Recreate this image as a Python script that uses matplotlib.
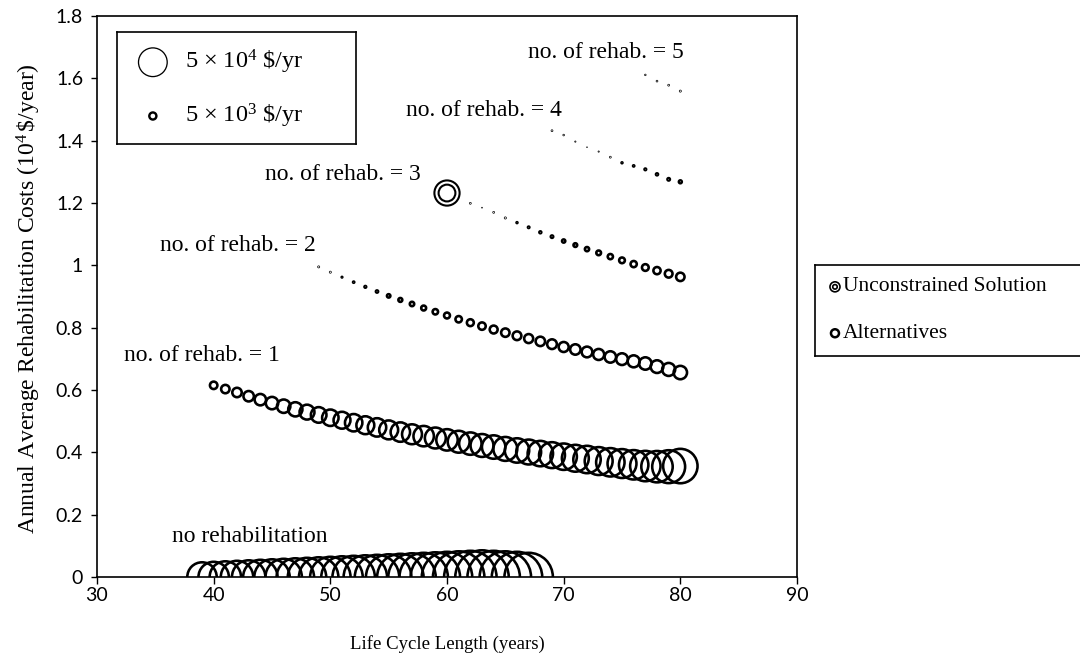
import numpy as np
import matplotlib.pyplot as plt
from matplotlib.ticker import FuncFormatter

DPI = 100

# life cycle length (years) for each rehabilitation count
years_r0 = list(range(39, 68))
years_r1 = list(range(40, 81))
years_r2 = list(range(49, 81))
years_r3 = list(range(61, 81))
years_r4 = list(range(69, 81))
years_r5 = list(range(77, 81))

# annual average rehabilitation costs (10^4 $/year)
cost_r0 = [0.0, 0.0, 0.0, 0.0, 0.0, 0.0, 0.0, 0.0, 0.0, 0.0,
           0.0, 0.0, 0.0, 0.0, 0.0, 0.0, 0.0, 0.0, 0.0, 0.0,
           0.0, 0.0, 0.0, 0.0, 0.0, 0.0, 0.0, 0.0, 0.0]
cost_r1 = [0.615, 0.603, 0.592, 0.580, 0.569, 0.558, 0.548, 0.538, 0.529, 0.520,
           0.511, 0.503, 0.495, 0.487, 0.480, 0.472, 0.465, 0.458, 0.452, 0.446,
           0.440, 0.434, 0.428, 0.422, 0.417, 0.411, 0.406, 0.401, 0.396, 0.391,
           0.386, 0.381, 0.377, 0.372, 0.368, 0.364, 0.360, 0.356, 0.354, 0.354,
           0.356]
cost_r2 = [0.995, 0.978, 0.962, 0.946, 0.931, 0.916, 0.902, 0.889, 0.876, 0.863,
           0.851, 0.839, 0.827, 0.816, 0.805, 0.794, 0.784, 0.774, 0.765, 0.756,
           0.747, 0.738, 0.730, 0.722, 0.714, 0.706, 0.699, 0.692, 0.685, 0.675,
           0.666, 0.656]
cost_r3 = [1.215, 1.199, 1.185, 1.170, 1.152, 1.137, 1.122, 1.106, 1.092, 1.078,
           1.065, 1.052, 1.040, 1.028, 1.016, 1.004, 0.993, 0.983, 0.973, 0.963]
cost_r4 = [1.432, 1.418, 1.397, 1.379, 1.365, 1.347, 1.329, 1.319, 1.308, 1.292,
           1.276, 1.268]
cost_r5 = [1.611, 1.591, 1.578, 1.559]

# bubble values (10^3 $/yr)
size_r0 = [56.9, 60.5, 64.2, 68.1, 72.0, 76.1, 80.2, 84.5, 88.9, 93.4,
           98.0, 102.7, 107.6, 112.5, 117.6, 122.7, 128.0, 133.4, 138.9, 144.5,
           150.2, 156.1, 162.0, 168.1, 174.2, 168.1, 162.0, 156.1, 144.5]
size_r1 = [5.6, 6.7, 8.0, 9.4, 10.9, 12.5, 14.2, 15.7, 17.0, 18.4,
           20.1, 21.1, 22.2, 23.3, 24.5, 25.7, 26.9, 28.1, 29.4, 30.7,
           32.0, 33.3, 34.7, 36.1, 37.6, 39.0, 40.5, 42.0, 43.6, 45.1,
           46.7, 48.3, 50.0, 51.7, 53.4, 55.1, 56.9, 60.5, 64.2, 70.0,
           76.1]
size_r2 = [0.44, 0.44, 0.57, 0.80, 1.03, 1.28, 2.00, 2.35, 2.72, 3.13,
           3.56, 4.01, 4.50, 5.01, 5.56, 6.13, 6.72, 7.09, 7.48, 8.00,
           8.40, 8.82, 9.39, 9.83, 10.3, 10.9, 11.4, 11.8, 12.5, 13.0,
           13.5, 14.2]
size_r3 = [0.06, 0.38, 0.14, 0.38, 0.47, 0.68, 0.89, 1.13, 1.39, 1.87,
           2.20, 2.57, 2.96, 3.38, 3.83, 4.30, 4.80, 5.34, 5.89, 6.72]
size_r4 = [0.38, 0.32, 0.22, 0.125, 0.22, 0.38, 0.68, 0.80, 0.98, 1.18,
           1.39, 1.68]
size_r5 = [0.29, 0.35, 0.38, 0.44]

# unconstrained optimum (no. of rehab. = 3)
unc_year = 60
unc_cost = 1.232
unc_size = 32.0

legend_sizes = [50.0, 5.0]
legend_labels = [r'5 × 10$^4$ \$/yr', r'5 × 10$^3$ \$/yr']

SERIF = 'Liberation Serif'
plt.rcParams['font.family'] = ['Lato', 'DejaVu Sans']
plt.rcParams['mathtext.fontset'] = 'custom'
plt.rcParams['mathtext.rm'] = SERIF
plt.rcParams['mathtext.it'] = SERIF + ':italic'
plt.rcParams['mathtext.bf'] = SERIF + ':bold'
PT = 72.0 / DPI


def bubble_px(v):
    # outer bubble diameter in px, area proportional to value (5x10^4 $/yr -> 30 px)
    return 30.0 * np.sqrt(np.asarray(v, dtype=float) / 50.0)


def bubbles(ax, x, y, v, **kw):
    D = bubble_px(v)
    # thin outline for the tiniest bubbles, heavy outline otherwise
    lw = np.where(D < 3.05, 0.7, np.minimum(2.6, D * 0.42))
    path = D - lw
    ax.scatter(x, y, s=(path * PT) ** 2, facecolors='none', edgecolors='black',
               linewidths=lw * PT, **kw)


fig = plt.figure(figsize=(10.8, 6.61), dpi=DPI)
ax = fig.add_axes([97 / 1080, 84 / 661, 700 / 1080, 561 / 661])

for x, y, v in [(years_r0, cost_r0, size_r0), (years_r1, cost_r1, size_r1),
                (years_r2, cost_r2, size_r2), (years_r3, cost_r3, size_r3),
                (years_r4, cost_r4, size_r4), (years_r5, cost_r5, size_r5)]:
    bubbles(ax, x, y, v)

# double ring for the unconstrained solution
d_unc = bubble_px(unc_size)
for f in (1.05, 0.7):
    ax.scatter([unc_year], [unc_cost], s=(d_unc * f * PT) ** 2,
               facecolors='none', edgecolors='black', linewidths=1.5)

ax.set_xlim(30, 90)
ax.set_ylim(0, 1.8)
ax.set_xticks(np.arange(30, 91, 10))
ax.set_yticks(np.arange(0, 1.81, 0.2))
ax.yaxis.set_major_formatter(FuncFormatter(lambda v, p: f'{v:.1f}'.rstrip('0').rstrip('.')))
ax.tick_params(labelsize=14, direction='out', width=1)
ax.tick_params(axis='x', length=5, pad=2)
ax.tick_params(axis='y', length=4, pad=6)
for s in ax.spines.values():
    s.set_linewidth(1.2)

ax.set_xlabel('Life Cycle Length (years)', fontfamily=SERIF, fontsize=13.5)
ax.xaxis.set_label_coords(0.5, -0.103)
ax.set_ylabel(r'Annual Average Rehabilitation Costs (10$^{4}\,$\$/year)',
              fontfamily=SERIF, fontsize=17)
ax.yaxis.set_label_coords(-0.077, 0.497)

notes = [('no. of rehab. = 5', 73.6, 1.684), ('no. of rehab. = 4', 63.2, 1.498),
         ('no. of rehab. = 3', 51.1, 1.290), ('no. of rehab. = 2', 42.1, 1.065),
         ('no. of rehab. = 1', 39.0, 0.712), ('no rehabilitation', 43.1, 0.131)]
for txt, x, y in notes:
    ax.text(x, y, txt, fontfamily=SERIF, fontsize=17, ha='center', va='center')

# bubble size key
key = fig.add_axes([117 / 1080, 1 - 144 / 661, 239 / 1080, 112 / 661])
key.set_xlim(0, 1)
key.set_ylim(0, 1)
key.set_xticks([])
key.set_yticks([])
for s in key.spines.values():
    s.set_linewidth(1.2)
for yy, v, lab in zip([0.73, 0.25], legend_sizes, legend_labels):
    d = bubble_px(v)
    lw = 1.3 if v > 10 else 2.4
    key.scatter([0.15], [yy], s=((d - lw) * PT) ** 2, facecolors='none',
                edgecolors='black', linewidths=lw * PT, clip_on=False)
    key.text(0.285, yy, lab, fontfamily=SERIF, fontsize=17.5, va='center')

# series key
leg = fig.add_axes([815 / 1080, 1 - 356 / 661, 270 / 1080, 91 / 661])
leg.set_xlim(0, 1)
leg.set_ylim(0, 1)
leg.set_xticks([])
leg.set_yticks([])
for s in leg.spines.values():
    s.set_linewidth(1.2)
leg.scatter([0.074], [0.76], s=(10 * PT) ** 2, facecolors='none',
            edgecolors='black', linewidths=1.2)
leg.scatter([0.074], [0.76], s=(4.5 * PT) ** 2, facecolors='none',
            edgecolors='black', linewidths=1.2)
leg.scatter([0.074], [0.25], s=(8 * PT) ** 2, facecolors='none',
            edgecolors='black', linewidths=1.8)
leg.text(0.103, 0.76, 'Unconstrained Solution', fontfamily=SERIF, fontsize=15.5, va='center')
leg.text(0.103, 0.25, 'Alternatives', fontfamily=SERIF, fontsize=15.5, va='center')

fig.savefig('out.png', dpi=DPI)
